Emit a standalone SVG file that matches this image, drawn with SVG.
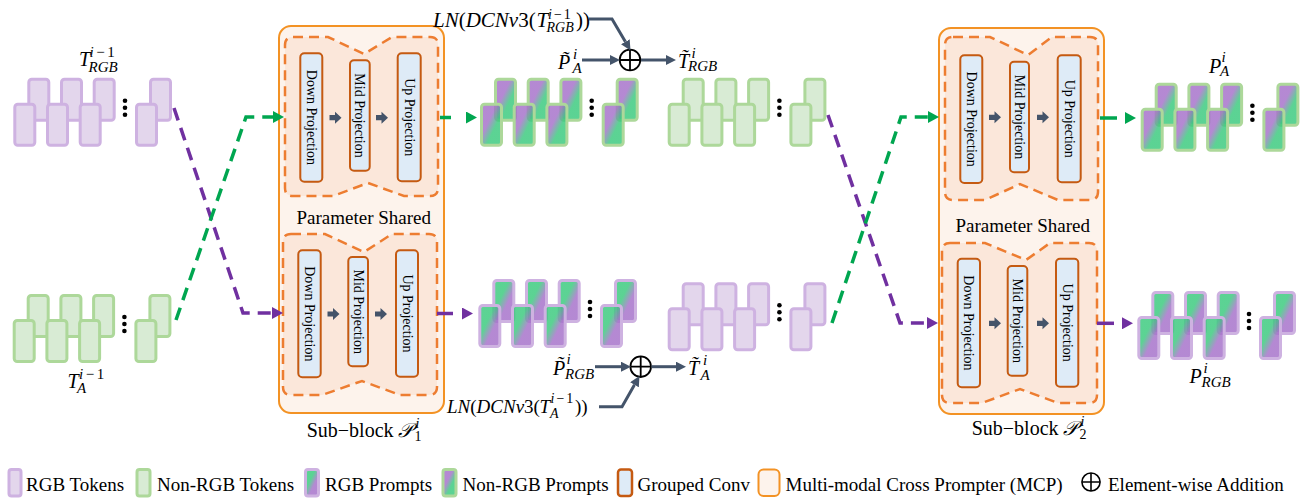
<svg xmlns="http://www.w3.org/2000/svg" xmlns:xlink="http://www.w3.org/1999/xlink" width="1301" height="499" viewBox="0 0 1301 499">
  <defs>
    <style>
      .serif{font-family:"Liberation Serif","Times New Roman",serif;fill:#000}
      .math{font-family:"Liberation Serif","Times New Roman",serif;font-style:italic;fill:#000}
      .up{font-style:normal}
      .tok-rgb{fill:#e3d6ec;stroke:#ceb2e1;stroke-width:3}
      .tok-non{fill:#d8ebd4;stroke:#add89a;stroke-width:3}
      .pr-rgb{fill:url(#gradRgb);fill-opacity:.82;stroke:#ceb2e1;stroke-width:3}
      .pr-non{fill:url(#gradNon);fill-opacity:.82;stroke:#add89a;stroke-width:3}
      .mcp{fill:#fdf3ec;stroke:#f39224;stroke-width:2}
      .core{fill:#fbe7da;stroke:#ed7d31;stroke-width:2.5;stroke-dasharray:10 6}
      .conv{fill:#deebf7;stroke:#c55a11;stroke-width:2}
      .conv-t{font-family:"Liberation Serif","Times New Roman",serif;font-size:14px;text-anchor:middle;dominant-baseline:central;fill:#000}
      .flow-g{fill:none;stroke:#00a650;stroke-width:3.5;stroke-dasharray:13 8}
      .flow-p{fill:none;stroke:#7030a0;stroke-width:3.5;stroke-dasharray:13 8}
      .op{fill:none;stroke:#44546a;stroke-width:3}
      .plus{fill:#fff;stroke:#000;stroke-width:1.8}
      .lbl{font-family:"Liberation Serif","Times New Roman",serif;font-size:19px;fill:#000}
    </style>
    <linearGradient id="gradNon" x1="0" y1="0" x2="1" y2="1">
      <stop offset="0.38" stop-color="#a46fc9"/>
      <stop offset="0.62" stop-color="#38c97c"/>
    </linearGradient>
    <linearGradient id="gradRgb" x1="0" y1="0" x2="1" y2="1">
      <stop offset="0.38" stop-color="#38c97c"/>
      <stop offset="0.62" stop-color="#a46fc9"/>
    </linearGradient>
    <marker id="ahG" markerUnits="userSpaceOnUse" markerWidth="11" markerHeight="12" viewBox="0 0 11 12" refX="0" refY="6" orient="auto">
      <path d="M0,0 L11,6 L0,12 Z" fill="#00a650"/>
    </marker>
    <marker id="ahP" markerUnits="userSpaceOnUse" markerWidth="11" markerHeight="12" viewBox="0 0 11 12" refX="0" refY="6" orient="auto">
      <path d="M0,0 L11,6 L0,12 Z" fill="#7030a0"/>
    </marker>
    <marker id="ahS" markerUnits="userSpaceOnUse" markerWidth="10" markerHeight="10" viewBox="0 0 10 10" refX="0" refY="5" orient="auto">
      <path d="M0,0 L10,5 L0,10 Z" fill="#44546a"/>
    </marker>
    <!-- token / prompt stack: back row, ellipsis dots, front row -->
    <g id="stack">
      <rect x="15.5" y="-23.5" width="20" height="41" rx="3"/>
      <rect x="48.2" y="-23.5" width="20" height="41" rx="3"/>
      <rect x="80.9" y="-23.5" width="20" height="41" rx="3"/>
      <rect x="137.2" y="-23.5" width="20" height="41" rx="3"/>
      <circle cx="111.7" cy="-2" r="2.3" fill="#000" fill-opacity="1" stroke="none"/>
      <circle cx="111.7" cy="5" r="2.3" fill="#000" fill-opacity="1" stroke="none"/>
      <circle cx="111.7" cy="12" r="2.3" fill="#000" fill-opacity="1" stroke="none"/>
      <rect x="1.5" y="1.5" width="20" height="41" rx="3"/>
      <rect x="34.2" y="1.5" width="20" height="41" rx="3"/>
      <rect x="66.9" y="1.5" width="20" height="41" rx="3"/>
      <rect x="123.2" y="1.5" width="20" height="41" rx="3"/>
    </g>
    <path id="step" d="M0,-2.6 H5.5 V-6 L12,0 L5.5,6 V2.6 H0 Z" fill="#44546a"/>
    <g id="oplus">
      <circle r="10.3"/>
      <path d="M-10.3,0 H10.3 M0,-10.3 V10.3"/>
    </g>
  </defs>

  <rect width="1301" height="499" fill="#fff"/>

  <!-- input tokens -->
  <g id="rgb-tokens-in">
    <use xlink:href="#stack" href="#stack" x="13.3" y="102.7" class="tok-rgb"/>
    <text class="math" font-size="20"><tspan x="79" y="66">T</tspan><tspan x="89.5" y="57" font-size="15">i<tspan class="up" dx="2.5">−</tspan><tspan class="up" dx="2.5">1</tspan></tspan><tspan x="88.5" y="71.5" font-size="15">RGB</tspan></text>
  </g>
  <g id="aux-tokens-in">
    <use xlink:href="#stack" href="#stack" x="12.7" y="319" class="tok-non"/>
    <text class="math" font-size="20"><tspan x="67.5" y="388">T</tspan><tspan x="79" y="379" font-size="15">i<tspan class="up" dx="2.5">−</tspan><tspan class="up" dx="2.5">1</tspan></tspan><tspan x="77" y="392.5" font-size="15">A</tspan></text>
  </g>

  <!-- sub-block 1 -->
  <g id="subblock-1">
    <rect class="mcp" x="279" y="26" width="165" height="387" rx="12"/>
    <g id="sb1-upper">
      <path class="core" d="M293,37 H328 L364,54 L392,37 H430 Q438,37 438,45 V188 Q438,196 430,196 H404 L368,183 L333,196 H293 Q285,196 285,188 V45 Q285,37 293,37 Z"/>
      <rect class="conv" x="300.3" y="53.3" width="22" height="128.4" rx="4"/>
      <rect class="conv" x="350" y="60.3" width="19.7" height="110.4" rx="4"/>
      <rect class="conv" x="397.7" y="53.3" width="23" height="128" rx="4"/>
      <text class="conv-t" x="311.3" y="117.5" transform="rotate(90 311.3 117.5)">Down Projection</text>
      <text class="conv-t" x="359.9" y="115.5" transform="rotate(90 359.9 115.5)">Mid Projection</text>
      <text class="conv-t" x="409.2" y="117.3" transform="rotate(90 409.2 117.3)">Up Projection</text>
      <use xlink:href="#step" href="#step" x="329.5" y="117.7"/>
      <use xlink:href="#step" href="#step" x="376" y="117.7"/>
    </g>
    <text class="lbl" x="363.8" y="224" text-anchor="middle">Parameter Shared</text>
    <g id="sb1-lower">
      <path class="core" d="M291,234 H325 L364,252 L392,234 H429 Q437,234 437,242 V387 Q437,395 429,395 H400 L362,381 L322,395 H291 Q283,395 283,387 V242 Q283,234 291,234 Z"/>
      <rect class="conv" x="298.3" y="250.3" width="22.4" height="127" rx="4"/>
      <rect class="conv" x="348.3" y="257" width="19.7" height="109.3" rx="4"/>
      <rect class="conv" x="396" y="250.3" width="22" height="126.4" rx="4"/>
      <text class="conv-t" x="309.5" y="313.8" transform="rotate(90 309.5 313.8)">Down Projection</text>
      <text class="conv-t" x="358.2" y="311.7" transform="rotate(90 358.2 311.7)">Mid Projection</text>
      <text class="conv-t" x="407" y="313.5" transform="rotate(90 407 313.5)">Up Projection</text>
      <use xlink:href="#step" href="#step" x="327.5" y="314"/>
      <use xlink:href="#step" href="#step" x="375" y="314"/>
    </g>
    <text class="serif" font-size="20" y="437"><tspan x="306.7">Sub−block</tspan><tspan x="398" font-style="italic" font-family="DejaVu Sans, serif">𝒫</tspan><tspan x="414.5" y="441" font-size="14">1</tspan><tspan x="415.5" y="428" font-size="14" font-style="italic">i</tspan></text>
  </g>

  <!-- outputs of sub-block 1 -->
  <g id="aux-prompts-1">
    <use xlink:href="#stack" href="#stack" x="480" y="102.7" class="pr-non"/>
  </g>
  <g id="rgb-tokens-mid">
    <use xlink:href="#stack" href="#stack" x="667.7" y="102.7" class="tok-non"/>
  </g>
  <g id="rgb-prompts-1">
    <use xlink:href="#stack" href="#stack" x="478.3" y="304" class="pr-rgb"/>
  </g>
  <g id="aux-tokens-mid">
    <use xlink:href="#stack" href="#stack" x="667.7" y="307.3" class="tok-rgb"/>
  </g>

  <!-- element-wise additions -->
  <g id="add-rgb">
    <use xlink:href="#oplus" href="#oplus" x="630" y="60" class="plus"/>
    <text class="math" font-size="21"><tspan x="433" y="27">LN</tspan><tspan class="up">(</tspan>DCNv<tspan class="up">3(</tspan><tspan x="536.5">T</tspan><tspan x="548" y="19" font-size="14">i<tspan class="up" dx="2">−</tspan><tspan class="up" dx="2">1</tspan></tspan><tspan x="546.5" y="31.5" font-size="14">RGB</tspan><tspan x="576" y="27" class="up">))</tspan></text>
    <text class="math" font-size="20"><tspan x="558" y="69">P̃</tspan><tspan x="573" y="58.5" font-size="15">i</tspan><tspan x="572.5" y="72.5" font-size="15">A</tspan></text>
    <text class="math" font-size="20"><tspan x="678" y="67.5">T̃</tspan><tspan x="691.5" y="57.5" font-size="15">i</tspan><tspan x="688" y="71" font-size="15">RGB</tspan></text>
  </g>
  <g id="add-aux">
    <use xlink:href="#oplus" href="#oplus" x="640.7" y="366.7" class="plus"/>
    <text class="math" font-size="19"><tspan x="447" y="413">LN</tspan><tspan class="up">(</tspan>DCNv<tspan class="up">3(</tspan><tspan x="539.5">T</tspan><tspan x="550.5" y="403" font-size="14">i<tspan class="up" dx="2">−</tspan><tspan class="up" dx="2">1</tspan></tspan><tspan x="550" y="418" font-size="14">A</tspan><tspan x="575" y="413" class="up">))</tspan></text>
    <text class="math" font-size="20"><tspan x="553" y="374.5">P̃</tspan><tspan x="566.5" y="364" font-size="15">i</tspan><tspan x="565" y="378.5" font-size="15">RGB</tspan></text>
    <text class="math" font-size="20"><tspan x="688" y="374.5">T̃</tspan><tspan x="703" y="365" font-size="15">i</tspan><tspan x="700.5" y="380" font-size="15">A</tspan></text>
  </g>

  <!-- sub-block 2 -->
  <g id="subblock-2">
    <rect class="mcp" x="939" y="28" width="165" height="386" rx="12"/>
    <g id="sb2-upper">
      <path class="core" d="M953,37 H990 L1028,55 L1052,37 H1090 Q1098,37 1098,45 V192 Q1098,200 1090,200 H1058 L1020,184 L985,200 H953 Q945,200 945,192 V45 Q945,37 953,37 Z"/>
      <rect class="conv" x="960.3" y="55.3" width="22" height="127.7" rx="4"/>
      <rect class="conv" x="1010" y="61.7" width="19" height="110.6" rx="4"/>
      <rect class="conv" x="1057.7" y="55.3" width="23" height="127" rx="4"/>
      <text class="conv-t" x="971.3" y="119.2" transform="rotate(90 971.3 119.2)">Down Projection</text>
      <text class="conv-t" x="1019.5" y="117" transform="rotate(90 1019.5 117)">Mid Projection</text>
      <text class="conv-t" x="1069.2" y="118.8" transform="rotate(90 1069.2 118.8)">Up Projection</text>
      <use xlink:href="#step" href="#step" x="989" y="117.3"/>
      <use xlink:href="#step" href="#step" x="1037" y="117.3"/>
    </g>
    <text class="lbl" x="1022.7" y="232" text-anchor="middle">Parameter Shared</text>
    <g id="sb2-lower">
      <path class="core" d="M950,243 H985 L1026,260 L1050,243 H1089 Q1097,243 1097,251 V395 Q1097,403 1089,403 H1058 L1020,389 L982,403 H950 Q942,403 942,395 V251 Q942,243 950,243 Z"/>
      <rect class="conv" x="957.7" y="258.7" width="22.3" height="128.6" rx="4"/>
      <rect class="conv" x="1007.7" y="266" width="19.6" height="109.7" rx="4"/>
      <rect class="conv" x="1056" y="258.7" width="22.3" height="128" rx="4"/>
      <text class="conv-t" x="968.8" y="323" transform="rotate(90 968.8 323)">Down Projection</text>
      <text class="conv-t" x="1017.5" y="320.8" transform="rotate(90 1017.5 320.8)">Mid Projection</text>
      <text class="conv-t" x="1067.2" y="322.7" transform="rotate(90 1067.2 322.7)">Up Projection</text>
      <use xlink:href="#step" href="#step" x="989" y="323.3"/>
      <use xlink:href="#step" href="#step" x="1037" y="323.3"/>
    </g>
    <text class="serif" font-size="20" y="435"><tspan x="971.7">Sub−block</tspan><tspan x="1063" font-style="italic" font-family="DejaVu Sans, serif">𝒫</tspan><tspan x="1079.5" y="439" font-size="14">2</tspan><tspan x="1080.5" y="426" font-size="14" font-style="italic">i</tspan></text>
  </g>

  <!-- final prompts -->
  <g id="aux-prompts-out">
    <use xlink:href="#stack" href="#stack" x="1140.7" y="107.7" class="pr-non"/>
    <text class="math" font-size="20"><tspan x="1209" y="72.5">P</tspan><tspan x="1221.5" y="61.5" font-size="15">i</tspan><tspan x="1220" y="76" font-size="15">A</tspan></text>
  </g>
  <g id="rgb-prompts-out">
    <use xlink:href="#stack" href="#stack" x="1137.3" y="316" class="pr-rgb"/>
    <text class="math" font-size="20"><tspan x="1189.5" y="383">P</tspan><tspan x="1203.5" y="372.5" font-size="15">i</tspan><tspan x="1201.5" y="387" font-size="15">RGB</tspan></text>
  </g>

  <!-- connectors -->
  <g id="connectors">
    <path class="flow-p" d="M174,108 L243,313 L272,313" marker-end="url(#ahP)"/>
    <path class="flow-g" d="M176,320 L246,117 L273,117" marker-end="url(#ahG)"/>
    <path class="flow-g" d="M440,117.5 L466,117.5" style="stroke-dasharray:11 15" marker-end="url(#ahG)"/>
    <path class="flow-p" d="M437,313.5 L462,313.5" style="stroke-dasharray:16 9" marker-end="url(#ahP)"/>
    <path class="flow-p" d="M828,115 L900,323 L927,323" marker-end="url(#ahP)"/>
    <path class="flow-g" d="M832,323 L901,117 L928,117" marker-end="url(#ahG)"/>
    <path class="flow-g" d="M1100,118 L1125,118" style="stroke-dasharray:17 8" marker-end="url(#ahG)"/>
    <path class="flow-p" d="M1097,323.3 L1122,323.3" style="stroke-dasharray:17 8" marker-end="url(#ahP)"/>
    <path class="op" d="M589,19 L612,19 L625.4,41.8" marker-end="url(#ahS)"/>
    <path class="op" d="M582,60 L610,60" marker-end="url(#ahS)"/>
    <path class="op" d="M641,60 L666,60" marker-end="url(#ahS)"/>
    <path class="op" d="M595,366.7 L621,366.7" marker-end="url(#ahS)"/>
    <path class="op" d="M651.5,366.7 L676,366.7" marker-end="url(#ahS)"/>
    <path class="op" d="M599,406.7 L622,406.7 L634.5,384.8" marker-end="url(#ahS)"/>
  </g>

  <!-- legend -->
  <g id="legend">
    <rect class="tok-rgb" x="9" y="469.5" width="12" height="26.5" rx="2.5"/>
    <text class="lbl" x="26" y="491">RGB Tokens</text>
    <rect class="tok-non" x="137" y="469.5" width="13" height="26.5" rx="2.5"/>
    <text class="lbl" x="157" y="491">Non-RGB Tokens</text>
    <rect class="pr-rgb" x="305.5" y="469.5" width="13" height="26.5" rx="2.5"/>
    <text class="lbl" x="325" y="491">RGB Prompts</text>
    <rect class="pr-non" x="443" y="469.5" width="13" height="26.5" rx="2.5"/>
    <text class="lbl" x="462.5" y="491">Non-RGB Prompts</text>
    <rect class="conv" x="618" y="469.5" width="14" height="26.5" rx="3" style="stroke-width:2.5"/>
    <text class="lbl" x="637.5" y="491">Grouped Conv</text>
    <rect class="mcp" x="758.5" y="469.5" width="21" height="26.5" rx="5"/>
    <text class="lbl" x="785.5" y="491">Multi-modal Cross Prompter (MCP)</text>
    <use xlink:href="#oplus" href="#oplus" transform="translate(1091 482) scale(0.88)" class="plus"/>
    <text class="lbl" x="1108" y="491">Element-wise Addition</text>
  </g>
</svg>
